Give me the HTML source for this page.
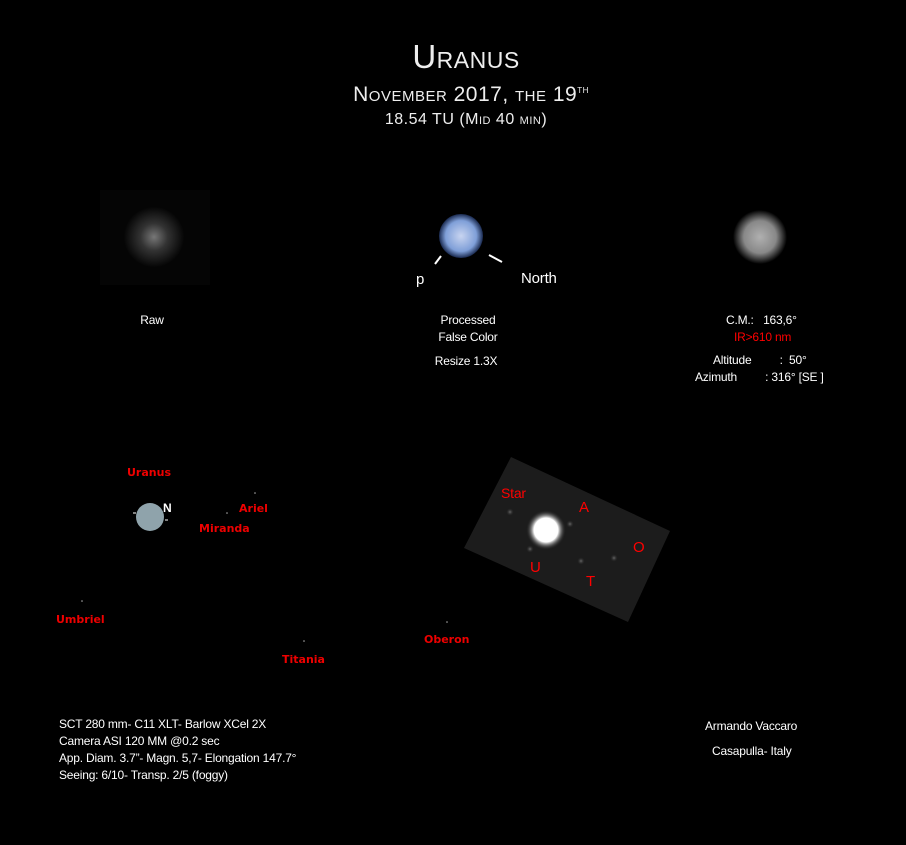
<!DOCTYPE html>
<html><head><meta charset="utf-8"><style>
body{margin:0;background:#000;width:906px;height:845px;overflow:hidden;position:relative;font-family:"Liberation Sans",sans-serif;color:#fff}
.t{position:absolute;white-space:nowrap;font-size:12px;letter-spacing:-0.2px}
.c{transform:translateX(-50%)}
.r{color:#f00}
.rb{color:#e00;font-weight:bold;font-size:11px;font-family:"DejaVu Sans","Liberation Sans",sans-serif;letter-spacing:0}
.sc{font-variant:small-caps;letter-spacing:0.5px}
</style></head><body>
<svg width="906" height="845" style="position:absolute;left:0;top:0">
<defs>
<radialGradient id="g1"><stop offset="0" stop-color="#777"/><stop offset="0.45" stop-color="#333"/><stop offset="1" stop-color="#060606"/></radialGradient>
<radialGradient id="g2"><stop offset="0" stop-color="#c8d4f0"/><stop offset="0.7" stop-color="#7f9fd8"/><stop offset="1" stop-color="#1a2a50"/></radialGradient>
<radialGradient id="g3"><stop offset="0" stop-color="#b0b0b0"/><stop offset="0.6" stop-color="#888"/><stop offset="1" stop-color="#000"/></radialGradient>
<radialGradient id="g4"><stop offset="0" stop-color="#fff"/><stop offset="0.6" stop-color="#fff"/><stop offset="1" stop-color="#1c1c1c" stop-opacity="0"/></radialGradient>
<radialGradient id="g5"><stop offset="0" stop-color="#666"/><stop offset="1" stop-color="#1c1c1c" stop-opacity="0"/></radialGradient>
</defs>
<rect x="100" y="190" width="110" height="95" fill="#050505"/>
<circle cx="154" cy="237" r="30" fill="url(#g1)"/>
<circle cx="461" cy="236" r="22" fill="url(#g2)"/>
<line x1="441" y1="256" x2="435" y2="264" stroke="#fff" stroke-width="2"/>
<line x1="489" y1="255" x2="502" y2="262" stroke="#fff" stroke-width="2"/>
<circle cx="760" cy="237" r="27" fill="url(#g3)"/>
<circle cx="150" cy="517" r="14" fill="#8fa3ab"/>
<line x1="133" y1="513" x2="136" y2="513" stroke="#fff"/>
<line x1="165" y1="520" x2="168" y2="520" stroke="#fff"/>
<circle cx="255" cy="493" r="0.8" fill="#aaa"/><circle cx="227" cy="513" r="0.8" fill="#aaa"/>
<circle cx="82" cy="601" r="0.8" fill="#aaa"/><circle cx="304" cy="641" r="0.8" fill="#aaa"/><circle cx="447" cy="622" r="0.8" fill="#aaa"/>
<polygon points="511,457 670,531 628,622 464,548" fill="#1c1c1c"/>
<circle cx="546" cy="530" r="20" fill="url(#g4)"/>
<circle cx="510" cy="512" r="4" fill="url(#g5)"/><circle cx="570" cy="524" r="4" fill="url(#g5)"/>
<circle cx="530" cy="549" r="4" fill="url(#g5)"/><circle cx="581" cy="561" r="4" fill="url(#g5)"/><circle cx="614" cy="558" r="4" fill="url(#g5)"/>
</svg>
<div class="t c sc" style="left:466px;top:38px;font-size:33px;color:#eee">Uranus</div>
<div class="t c sc" style="left:471px;top:83px;font-size:21px;color:#eee">November 2017, the 19<sup style="font-size:11px">th</sup></div>
<div class="t c sc" style="left:466px;top:111px;font-size:16px;color:#eee">18.54 TU (Mid 40 min)</div>
<div class="t" style="left:416px;top:271px;font-size:15px">p</div>
<div class="t" style="left:521px;top:270px;font-size:15px">North</div>
<div class="t c" style="left:152px;top:313px">Raw</div>
<div class="t c" style="left:468px;top:313px">Processed</div>
<div class="t c" style="left:468px;top:330px">False Color</div>
<div class="t c" style="left:466px;top:354px">Resize 1.3X</div>
<div class="t" style="left:726px;top:313px">C.M.:&nbsp;&nbsp; 163,6°</div>
<div class="t r" style="left:734px;top:330px">IR&gt;610 nm</div>
<div class="t" style="left:713px;top:353px">Altitude&nbsp;&nbsp;&nbsp;&nbsp;&nbsp;&nbsp;&nbsp;&nbsp; :&nbsp; 50°</div>
<div class="t" style="left:695px;top:370px">Azimuth&nbsp;&nbsp;&nbsp;&nbsp;&nbsp;&nbsp;&nbsp;&nbsp; : 316° [SE ]</div>
<div class="t rb" style="left:127px;top:466px">Uranus</div>
<div class="t" style="left:163px;top:501px;font-weight:bold;font-size:12px">N</div>
<div class="t rb" style="left:239px;top:502px">Ariel</div>
<div class="t rb" style="left:199px;top:522px">Miranda</div>
<div class="t rb" style="left:56px;top:613px">Umbriel</div>
<div class="t rb" style="left:282px;top:653px">Titania</div>
<div class="t rb" style="left:424px;top:633px">Oberon</div>
<div class="t r" style="left:501px;top:485px;font-size:14px">Star</div>
<div class="t r" style="left:579px;top:499px;font-size:15px">A</div>
<div class="t r" style="left:633px;top:539px;font-size:15px">O</div>
<div class="t r" style="left:530px;top:559px;font-size:15px">U</div>
<div class="t r" style="left:586px;top:573px;font-size:15px">T</div>
<div class="t" style="left:59px;top:717px">SCT 280 mm- C11 XLT- Barlow XCel 2X</div>
<div class="t" style="left:59px;top:734px">Camera ASI 120 MM @0.2 sec</div>
<div class="t" style="left:59px;top:751px">App. Diam. 3.7”- Magn. 5,7- Elongation 147.7°</div>
<div class="t" style="left:59px;top:768px">Seeing: 6/10- Transp. 2/5 (foggy)</div>
<div class="t" style="left:705px;top:719px">Armando Vaccaro</div>
<div class="t" style="left:712px;top:744px">Casapulla- Italy</div>
</body></html>
